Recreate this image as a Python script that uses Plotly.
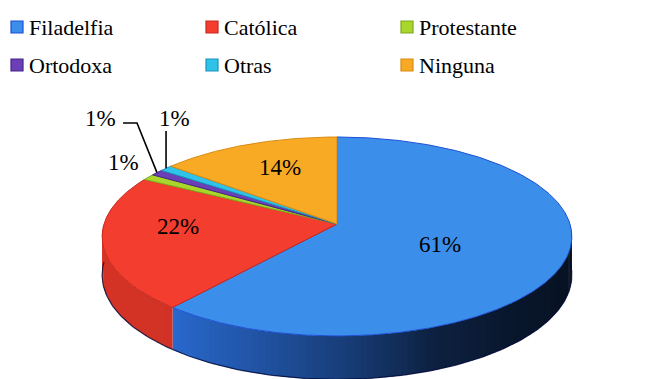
import numpy as np
import plotly.graph_objects as go

# ---- data -------------------------------------------------------------
categories = ["Filadelfia", "Católica", "Protestante", "Ortodoxa", "Otras", "Ninguna"]
shares = [61, 22, 1, 1, 1, 14]
pct_labels = [f"{s}%" for s in shares]

# ---- styling ----------------------------------------------------------
top_colors = ["#3b8fea", "#f23d2f", "#a9d62b", "#6b3fb5", "#30c3ea", "#f9aa25"]
edge_colors = ["#1c4fd6", "#c8281c", "#7fa81a", "#45248a", "#1b93bb", "#d98a10"]
side_base = [(42, 108, 212), (215, 52, 38), (150, 190, 30), (90, 50, 150), (30, 160, 200), (220, 140, 20)]

FONT = "Liberation Serif"
W, H = 654, 379

# projected disc geometry (pixel space)
CX, CY = 337.0, 224.0
RX, RY = 233.0, 97.9
PERSP = 0.1255
DEPTH = 38.0


def proj(theta_deg, drop=0.0):
    t = np.radians(theta_deg)
    u, v = np.sin(t), -np.cos(t)
    w = 1.0 / (1.0 - PERSP * v)
    return CX + RX * u * w, CY + (RY * v + drop) * w


def shade(theta):
    return float(np.interp(theta, [90, 135, 158, 177, 200, 220, 270],
                           [0.14, 0.20, 0.30, 0.55, 0.80, 0.97, 1.0]))


fig = go.Figure()

total = float(sum(shares))
bounds = np.concatenate([[0.0], np.cumsum(shares) / total * 360.0])

# ---- side walls (front half only) --------------------------------------
for i, cat in enumerate(categories):
    a0, a1 = bounds[i], bounds[i + 1]
    lo, hi = max(a0, 90.0), min(a1, 270.0)
    if lo >= hi:
        continue
    n = int(np.ceil((hi - lo) / 1.5))
    edges = np.linspace(lo, hi, n + 1)
    for s0, s1 in zip(edges[:-1], edges[1:]):
        # each strip overlaps the next one slightly so no seams show
        arc = np.linspace(s0, min(s1 + 0.8, hi), 4)
        tx, ty = proj(arc)
        bx, by = proj(arc[::-1], DEPTH)
        f = shade(0.5 * (s0 + s1))
        r, g, b = (int(round(c * f)) for c in side_base[i])
        col = f"rgb({r},{g},{b})"
        fig.add_trace(go.Scatter(
            x=np.concatenate([tx, bx]), y=np.concatenate([ty, by]),
            mode="lines", fill="toself", fillcolor=col,
            line=dict(color=col, width=0), hoverinfo="skip", showlegend=False))

# dark lower rim of the wall
rim = np.linspace(90, 270, 200)
rx_, ry_ = proj(rim, DEPTH)
fig.add_trace(go.Scatter(x=rx_, y=ry_, mode="lines",
                         line=dict(color="rgba(0,10,60,0.8)", width=1.2),
                         hoverinfo="skip", showlegend=False))

# ---- top faces --------------------------------------------------------
for i, cat in enumerate(categories):
    a0, a1 = bounds[i], bounds[i + 1]
    arc = np.linspace(a0, a1, max(4, int((a1 - a0) * 2)))
    ax, ay = proj(arc)
    fig.add_trace(go.Scatter(
        x=np.concatenate([[CX], ax, [CX]]), y=np.concatenate([[CY], ay, [CY]]),
        mode="lines", fill="toself", fillcolor=top_colors[i],
        line=dict(color=edge_colors[i], width=1), name=cat,
        hoverinfo="name", showlegend=False))

# ---- percentage labels -------------------------------------------------
annotations = []
LABEL_SIZE = 23
# radial fraction and vertical nudge of the labels that sit on the slices
inner_place = {0: (0.45, 5), 1: (0.68, -10), 5: (0.64, -6)}
for i, (frac, dy) in inner_place.items():
    mid = 0.5 * (bounds[i] + bounds[i + 1])
    t = np.radians(mid)
    u, v = np.sin(t), -np.cos(t)
    w = 1.0 / (1.0 - PERSP * v)
    lx, ly = CX + RX * u * w * frac, CY + RY * v * w * frac + dy
    annotations.append(dict(x=lx, y=ly, text=pct_labels[i], showarrow=False,
                            font=dict(family=FONT, size=LABEL_SIZE, color="black"),
                            xanchor="center", yanchor="middle"))

# small slices: labels outside, two with leader lines
outer_pos = {2: (123, 162), 3: (100, 118), 4: (174, 118)}
for i, (lx, ly) in outer_pos.items():
    annotations.append(dict(x=lx, y=ly, text=pct_labels[i], showarrow=False,
                            font=dict(family=FONT, size=LABEL_SIZE, color="black"),
                            xanchor="center", yanchor="middle"))

mx, my = proj(0.5 * (bounds[3] + bounds[4]))
fig.add_trace(go.Scatter(x=[123, 137, mx], y=[123, 123, my], mode="lines",
                         line=dict(color="black", width=1.6),
                         hoverinfo="skip", showlegend=False))
ox, oy = proj(0.5 * (bounds[4] + bounds[5]))
fig.add_trace(go.Scatter(x=[ox, ox], y=[131, oy], mode="lines",
                         line=dict(color="black", width=1.6),
                         hoverinfo="skip", showlegend=False))

# ---- legend (3 columns x 2 rows) ---------------------------------------
col_x = [17, 212, 407]
row_y = [27, 65]
for i, cat in enumerate(categories):
    x0 = col_x[i % 3]
    y0 = row_y[i // 3]
    fig.add_trace(go.Scatter(x=[x0], y=[y0], mode="markers",
                             marker=dict(symbol="square", size=12, color=top_colors[i],
                                         line=dict(color=edge_colors[i], width=1.2)),
                             hoverinfo="skip", showlegend=False))
    annotations.append(dict(x=x0 + 10, y=y0, text=cat, showarrow=False,
                            font=dict(family=FONT, size=22, color="black"),
                            xanchor="left", yanchor="middle"))

fig.update_layout(
    width=W, height=H,
    margin=dict(l=0, r=0, t=0, b=0),
    paper_bgcolor="white", plot_bgcolor="white",
    xaxis=dict(range=[0, W], visible=False, fixedrange=True),
    yaxis=dict(range=[H, 0], visible=False, fixedrange=True),
    annotations=annotations,
    showlegend=False,
)

fig.write_html("out.html")
